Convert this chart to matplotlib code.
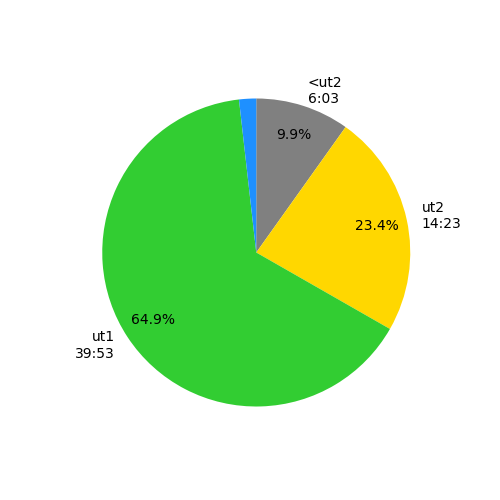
import matplotlib
matplotlib.use('Agg')
import matplotlib.pyplot as plt

# 구간별 시간 (초)
labels = ['<ut2\n6:03', 'ut2\n14:23', 'ut1\n39:53', '']
seconds = [363, 863, 2393, 66]
colors = ['grey', 'gold', 'limegreen', 'dodgerblue']


def fmt_pct(p):
    # 작은 조각은 퍼센트 표시 안 함
    return f'{p:.1f}%' if p > 5 else ''


fig, ax = plt.subplots(figsize=(5, 5), dpi=100)
ax.pie(seconds, labels=labels, colors=colors, autopct=fmt_pct,
       pctdistance=0.8, startangle=90, counterclock=False)
fig.savefig('out.png')
